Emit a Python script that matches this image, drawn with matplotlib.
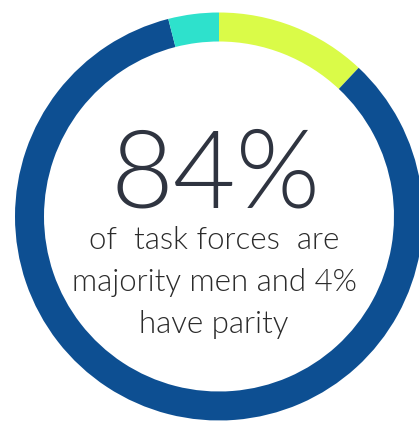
import matplotlib
matplotlib.use("Agg")
import matplotlib.pyplot as plt

labels = ["Majority women", "Majority men", "Parity"]
values = [12, 84, 4]
colors = ["#DAFB48", "#0D4F92", "#2EE1CC"]
big_text = "84%"
caption_lines = ["of  task forces  are", "majority men and 4%", "have parity"]

W, H = 419, 421
fig = plt.figure(figsize=(W / 100, H / 100), dpi=100)
ax = fig.add_axes([0, 0, 1, 1])
ax.pie(values, colors=colors, startangle=90, counterclock=False,
       center=(219, H - 216.5), radius=204,
       wedgeprops=dict(width=29, linewidth=0))
ax.set_xlim(0, W)
ax.set_ylim(0, H)
ax.set_aspect("equal")
ax.axis("off")

fam = ["Lato", "DejaVu Sans"]
ax.text(215, H - 207, big_text, ha="center", va="baseline", fontsize=78,
        color="#2F3440", family=fam, weight=300)
baselines = [249, 291, 333]
for line, yb in zip(caption_lines, baselines):
    ax.text(214, H - yb, line, ha="center", va="baseline", fontsize=22.5,
            color="#2B2B2B", family=fam, weight=300)
fig.savefig("out.png", dpi=100)
